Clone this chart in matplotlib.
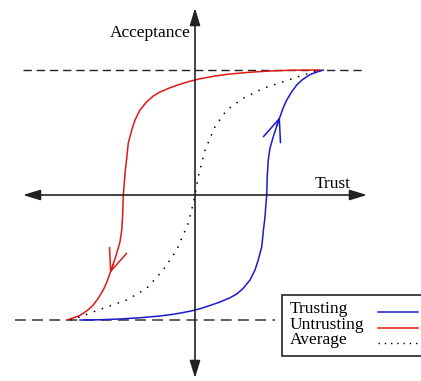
import matplotlib.pyplot as plt
from matplotlib.lines import Line2D
from matplotlib.patches import Rectangle

# curve points (trust, acceptance)
trusting_x = [-0.92, -0.76, -0.6, -0.44, -0.28, -0.16, -0.04, 0.04, 0.12, 0.2,
              0.28, 0.334, 0.386, 0.44, 0.48, 0.506, 0.534, 0.546, 0.56, 0.568,
              0.574, 0.578, 0.586, 0.6, 0.626, 0.654, 0.68, 0.706, 0.734, 0.774,
              0.814, 0.854, 0.894, 0.926, 0.96, 0.994, 1.026]
trusting_y = [-1.0, -0.998, -0.992, -0.982, -0.968, -0.952, -0.93, -0.91, -0.884, -0.856,
              -0.822, -0.792, -0.746, -0.68, -0.6, -0.52, -0.414, -0.294, -0.174, -0.066,
              0.0, 0.146, 0.28, 0.374, 0.466, 0.552, 0.626, 0.698, 0.76, 0.826,
              0.88, 0.918, 0.946, 0.966, 0.978, 0.99, 1.0]

untrusting_x = [-1.026, -0.994, -0.96, -0.926, -0.894, -0.854, -0.814, -0.774, -0.734, -0.706,
                -0.68, -0.654, -0.626, -0.6, -0.586, -0.578, -0.574, -0.568, -0.56, -0.546,
                -0.534, -0.506, -0.48, -0.44, -0.386, -0.334, -0.28, -0.2, -0.12, -0.04,
                0.04, 0.16, 0.28, 0.44, 0.6, 0.76, 1.0]
untrusting_y = [-1.0, -0.99, -0.978, -0.966, -0.946, -0.918, -0.88, -0.826, -0.76, -0.698,
                -0.626, -0.552, -0.466, -0.374, -0.28, -0.146, 0.0, 0.066, 0.174, 0.294,
                0.414, 0.52, 0.6, 0.68, 0.746, 0.792, 0.824, 0.858, 0.886, 0.91,
                0.93, 0.952, 0.968, 0.982, 0.992, 0.998, 1.0]

average_x = [-1.0, -0.92, -0.734, -0.546, -0.386, -0.254, -0.146, -0.054, -0.014, 0.0,
             0.026, 0.08, 0.16, 0.254, 0.386, 0.546, 0.706, 0.866, 0.974]
average_y = [-1.0, -0.974, -0.906, -0.84, -0.746, -0.6, -0.44, -0.226, -0.066, 0.0,
             0.146, 0.36, 0.546, 0.68, 0.774, 0.854, 0.906, 0.96, 0.994]

labels = ["Trusting", "Untrusting", "Average"]

BLUE = "#1a1acc"
RED = "#e01818"
FONT = "Liberation Serif"

fig = plt.figure(figsize=(4.21, 3.81), dpi=100)
ax = fig.add_axes([0, 0, 1, 1])
ax.set_xlim(-1.56, 1.808)
ax.set_ylim(-1.488, 1.56)
ax.axis("off")

# saturation levels
ax.plot([-1.376, 1.336], [1, 1], color="#222222", lw=1.0, dashes=(6, 3.5))
ax.plot([-1.44, 0.64], [-1, -1], color="#555555", lw=1.3, dashes=(6, 3.5))

# axes with arrow heads
axis_kw = dict(arrowstyle="<|-|>,head_length=10.5,head_width=3.2", mutation_scale=1,
               color="#222222", lw=1.2, shrinkA=0, shrinkB=0)
ax.annotate("", xy=(1.376, 0), xytext=(-1.376, 0), arrowprops=axis_kw)
ax.annotate("", xy=(0, 1.496), xytext=(0, -1.464), arrowprops=axis_kw)

ax.text(-0.36, 1.296, "Acceptance", family=FONT, fontsize=12.5, ha="center", va="center")
ax.text(1.104, 0.088, "Trust", family=FONT, fontsize=12.5, ha="center", va="center")

# curves
ax.plot(trusting_x, trusting_y, color=BLUE, lw=1.1)
ax.plot(untrusting_x, untrusting_y, color=RED, lw=1.1)
ax.plot(average_x, average_y, color="black", lw=1.1, linestyle=(0, (1, 4.5)))

# direction arrows on the curves
arr = "->,head_length=16,head_width=6.5"
ax.annotate("", xy=(trusting_x[26], trusting_y[26]), xytext=(trusting_x[25], trusting_y[25]),
            arrowprops=dict(arrowstyle=arr, mutation_scale=1, color=BLUE, lw=1.1,
                            shrinkA=0, shrinkB=0))
ax.annotate("", xy=(untrusting_x[10], untrusting_y[10]), xytext=(untrusting_x[11], untrusting_y[11]),
            arrowprops=dict(arrowstyle=arr, mutation_scale=1, color=RED, lw=1.1,
                            shrinkA=0, shrinkB=0))

# legend box drawn by hand (labels left, samples right)
tr = fig.transFigure
W, H = 421, 381
fig.patches.append(Rectangle((282 / W, 1 - 356 / H), 140 / W, 61 / H, transform=tr,
                             facecolor="white", edgecolor="#222222", lw=1.2))
rows = [309, 325, 340]
styles = [dict(color=BLUE, lw=1.1), dict(color=RED, lw=1.1),
          dict(color="black", lw=1.0, linestyle=(0, (1, 3.5)))]
for lab, yy, st in zip(labels, rows, styles):
    fig.text(290 / W, 1 - yy / H, lab, family=FONT, fontsize=12.5, ha="left", va="center")
    fig.lines.append(Line2D([378 / W, 418 / W], [1 - (yy + 3) / H] * 2, transform=tr, **st))

fig.savefig("out.png", dpi=100)
